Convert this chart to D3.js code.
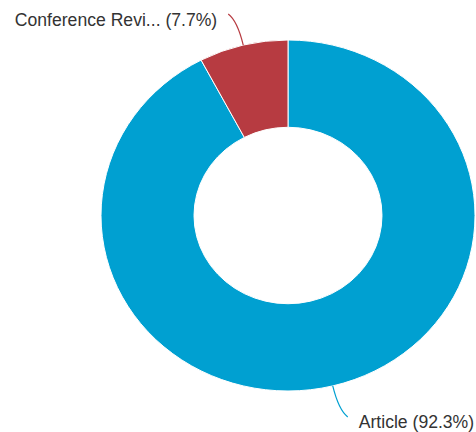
<!DOCTYPE html>
<html>
<head>
<meta charset="utf-8">
<script src="https://cdn.jsdelivr.net/npm/d3@7"></script>
<style>
  html, body { margin: 0; padding: 0; background: #fff; }
  svg { display: block; }
  text { font-family: "Liberation Sans", Arial, sans-serif; }
</style>
</head>
<body>
<svg id="chart" width="476" height="432"></svg>
<script>
// Document types and their counts
const categories = ["Article", "Conference Review"];
const counts = [12, 1];
const colors = ["#00a0d1", "#b73b41"];

const width = 476, height = 432;
const cx = 288, cy = 215.5;
const outerR = 187, innerR = 94;
const sy = 0.9385; // vertical squash of the ring

const svg = d3.select("#chart");
const total = d3.sum(counts);
const data = categories.map((c, i) => ({ name: c, value: counts[i], color: colors[i] }));

const pie = d3.pie().sort(null).value(d => d.value);
const arcs = pie(data);
const arc = d3.arc().innerRadius(innerR).outerRadius(outerR);

const ring = svg.append("g")
  .attr("transform", `translate(${cx},${cy}) scale(1,${sy})`);

ring.selectAll("path")
  .data(arcs)
  .join("path")
  .attr("d", arc)
  .attr("fill", d => d.data.color)
  .attr("stroke", "#fff")
  .attr("stroke-width", 1)
  .attr("vector-effect", "non-scaling-stroke");

// Leader lines and labels
const shorten = s => s.length > 15 ? s.slice(0, 15) + "..." : s;
const labels = svg.append("g");

arcs.forEach(d => {
  const a = (d.startAngle + d.endAngle) / 2;
  const ux = Math.sin(a), uy = -Math.cos(a);
  const sx0 = cx + ux * outerR, sy0 = cy + uy * outerR * sy;
  const side = ux >= 0 ? 1 : -1;
  const vert = uy >= 0 ? 1 : -1;
  const c1x = sx0 + ux * 25, c1y = sy0 + uy * 25;
  const ex = sx0 + side * 15, ey = sy0 + vert * 31;
  const path = d3.path();
  path.moveTo(sx0, sy0);
  path.quadraticCurveTo(c1x, c1y, ex, ey);
  labels.append("path")
    .attr("d", path.toString())
    .attr("fill", "none")
    .attr("stroke", d.data.color)
    .attr("stroke-width", 1.2);
  const pct = (d.data.value / total * 100).toFixed(1);
  labels.append("text")
    .attr("x", ex + side * 11)
    .attr("y", ey + (vert > 0 ? 11 : 12))
    .attr("text-anchor", side > 0 ? "start" : "end")
    .attr("font-size", 17.6)
    .attr("fill", "#333")
    .text(`${shorten(d.data.name)} (${pct}%)`);
});
</script>
</body>
</html>
